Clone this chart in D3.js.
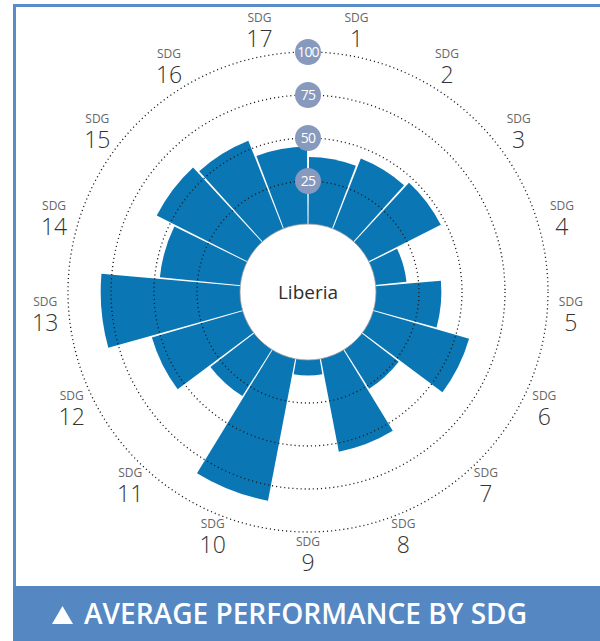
<!DOCTYPE html>
<html>
<head>
<meta charset="utf-8">
<script src="https://cdn.jsdelivr.net/npm/d3@7"></script>
<style>
  html, body { margin: 0; padding: 0; background: #fff; }
  svg { display: block; }
</style>
</head>
<body>
<svg id="chart" width="600" height="641"></svg>
<script>
// Average performance score for each SDG (0-100)
const goals = ["1","2","3","4","5","6","7","8","9","10","11","12","13","14","15","16","17"];
const scores = [39, 44, 47, 18, 38, 58, 27, 55, 9, 84, 32, 55, 81, 47, 59, 55, 45];
const gridValues = [25, 50, 75, 100];
const country = "Liberia";
const title = "AVERAGE PERFORMANCE BY SDG";

const svg = d3.select("#chart");
const W = 600, H = 641;
const cx = 308, cy = 292;
const innerR = 68, outerR = 240;

const FONT = "'Open Sans', 'Noto Sans', sans-serif";
const BAR = "#0a76b3";
const FRAME = "#5a8cc8";

// frame: left + top rule and the bottom banner
svg.append("rect").attr("x", 13).attr("y", 4).attr("width", 3).attr("height", 583).attr("fill", FRAME);
svg.append("rect").attr("x", 13).attr("y", 4).attr("width", W - 13).attr("height", 3).attr("fill", FRAME);
svg.append("rect").attr("x", 13).attr("y", 586).attr("width", W - 13).attr("height", H - 586).attr("fill", "#5587c3");

const angle = d3.scaleBand().domain(goals).range([0, 2 * Math.PI]).padding(0);
const radius = d3.scaleLinear().domain([0, 100]).range([innerR, outerR]);

const g = svg.append("g").attr("transform", `translate(${cx},${cy})`);

const arc = d3.arc()
  .innerRadius(0)
  .outerRadius(d => radius(d.value))
  .startAngle(d => angle(d.goal))
  .endAngle(d => angle(d.goal) + angle.bandwidth())
  .padAngle(0.02)
  .padRadius(100);

const data = goals.map((goal, i) => ({ goal, value: scores[i] }));

g.append("g").selectAll("path")
  .data(data)
  .join("path")
  .attr("d", arc)
  .attr("fill", BAR);

// dotted reference rings
g.append("g").selectAll("circle")
  .data(gridValues)
  .join("circle")
  .attr("r", d => radius(d))
  .attr("fill", "none")
  .attr("stroke", "#1a1a1a")
  .attr("stroke-width", 1.3)
  .attr("stroke-dasharray", "1.1,3");

// centre disc
g.append("circle").attr("r", innerR).attr("fill", "#fff").attr("stroke", "#9a9a9a").attr("stroke-width", 0.8);
g.append("text")
  .attr("x", 0).attr("y", 7)
  .attr("text-anchor", "middle")
  .attr("font-family", FONT)
  .attr("font-size", 19)
  .attr("fill", "#2e2e2e")
  .text(country);

// ring value badges along the top axis
const badge = g.append("g").selectAll("g")
  .data(gridValues)
  .join("g")
  .attr("transform", d => `translate(0,${-radius(d)})`);
badge.append("circle").attr("r", 13).attr("fill", "#8799bd");
badge.append("text")
  .attr("y", 5)
  .attr("text-anchor", "middle")
  .attr("font-family", FONT)
  .attr("font-size", 14)
  .attr("letter-spacing", -0.8)
  .attr("fill", "#fff")
  .text(d => d);

// goal labels around the outside
const labelR = 264;
const lab = g.append("g").selectAll("g")
  .data(goals)
  .join("g")
  .attr("transform", d => {
    const a = angle(d) + angle.bandwidth() / 2;
    return `translate(${labelR * Math.sin(a)},${-labelR * Math.cos(a)})`;
  });
lab.append("text")
  .attr("y", -10)
  .attr("text-anchor", "middle")
  .attr("font-family", FONT)
  .attr("font-size", 12)
  .attr("fill", "#666")
  .text("SDG");
lab.append("text")
  .attr("y", 15)
  .attr("text-anchor", "middle")
  .attr("font-family", FONT)
  .attr("font-weight", 300)
  .attr("font-size", 23)
  .attr("fill", "#333")
  .text(d => d);

// banner title
svg.append("path")
  .attr("d", "M52,624 L62.5,606 L73,624 Z")
  .attr("fill", "#fff");
svg.append("text")
  .attr("x", 84).attr("y", 624)
  .attr("font-family", FONT)
  .attr("font-weight", 600)
  .attr("font-size", 29)
  .attr("textLength", 443)
  .attr("lengthAdjust", "spacingAndGlyphs")
  .attr("fill", "#fff")
  .text(title);
</script>
</body>
</html>
